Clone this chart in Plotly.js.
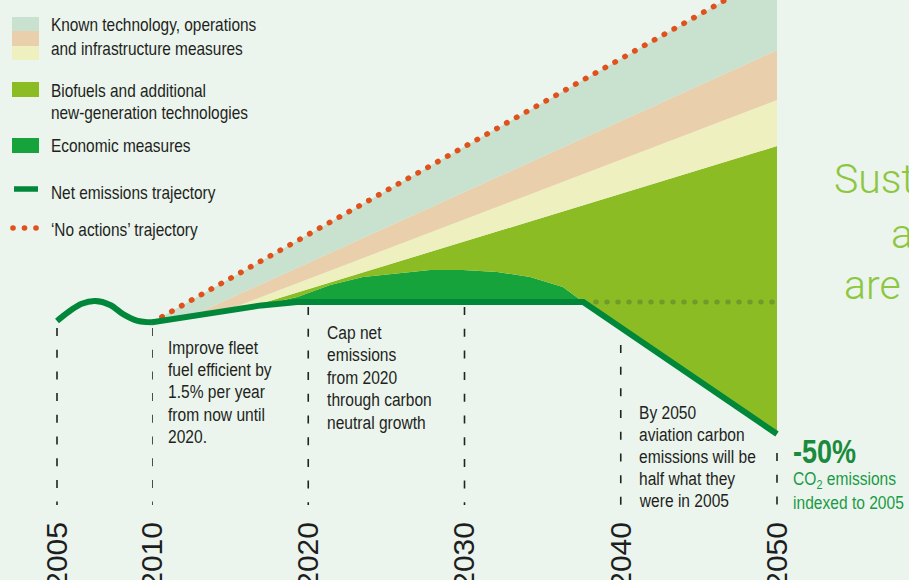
<!DOCTYPE html>
<html><head><meta charset="utf-8">
<script src="https://cdn.plot.ly/plotly-3.0.1.min.js"></script>
<style>html,body{margin:0;padding:0;background:#ebf5ee;}#chart{width:909px;height:580px;}</style>
</head><body><div id="chart"></div>
<script>
// ---------- DATA (CO2 emissions index, 2005 = 100) ----------
const earlyYears = [2005, 2005.6, 2006.3, 2007, 2007.8, 2008.5, 2009.2, 2010];
const earlyIndex = [100, 104, 107.6, 108.8, 107.1, 102.9, 100.2, 99.4];

const netYears = [2010, 2013, 2015, 2017, 2019.3, 2037.6, 2050];
const netIndex = [99.4, 102.7, 104.9, 106.9, 108.4, 108.4, 50];

const economicYears = [2010, 2013, 2015, 2016.2, 2017.1, 2019.3, 2021.4, 2023.5, 2025.7, 2027.8, 2029.9, 2032.1, 2034.2, 2036.3, 2037.6, 2050];
const economicIndex = [99.4, 102.7, 104.9, 106.1, 107.2, 110.6, 115.9, 119.5, 121.2, 122.6, 122.6, 121.7, 119.5, 115.0, 108.4, 50];

const biofuelYears = [2010, 2013, 2015, 2016.2, 2050];
const biofuelIndex = [99.4, 102.7, 104.9, 106.1, 177.4];

const infraYears = [2010, 2013, 2014.7, 2050];
const infraIndex = [99.4, 102.7, 104.6, 197.8];

const operationsYears = [2010, 2012.5, 2050];
const operationsIndex = [99.4, 102.2, 219.9];

const noActionYears = [2010, 2050];
const noActionIndex = [99.4, 254.9];

const capYears = [2038.4, 2050];
const capIndex = [108.4, 108.4];

const earlyTicks = [2005];
const mainTicks = [2010, 2020, 2030, 2040, 2050];
const earlyTickText = ['2005'];
const mainTickText = ['2010', '2020', '2030', '2040', '2050'];

const legendLabels = [
  ['Known technology, operations', 'and infrastructure measures'],
  ['Biofuels and additional', 'new-generation technologies'],
  ['Economic measures'],
  ['Net emissions trajectory'],
  ['\u2018No actions\u2019 trajectory']
];
const note2010 = ['Improve fleet', 'fuel efficient by', '1.5% per year', 'from now until', '2020.'];
const note2020 = ['Cap net', 'emissions', 'from 2020', 'through carbon', 'neutral growth'];
const note2040 = ['By 2050', 'aviation carbon', 'emissions will be', 'half what they', 'were in 2005'];

// ---------- STYLE / LAYOUT ----------
const W = 909, H = 580, B = 65, PH = H - B;
const SANS = "'Liberation Sans',Arial,Helvetica,sans-serif";
const SQUEEZE = 0.82;
const C = {bg:'#ebf5ee', mint:'#c8e2cf', peach:'#eacfad', cream:'#eef0bf', bio:'#8bbc24', eco:'#17a33b',
           net:'#00873a', orange:'#e0511b', cap:'#6f9b2b', text:'#231f20', green:'#1b9a45', light:'#8dc63f'};
const px = x => x / W, py = y => (PH - y) / PH;

function fillTrace(x, y, color){
  return {x, y, xaxis:'x2', yaxis:'y', mode:'lines', line:{width:0, color:color}, fill:'tonexty', fillcolor:color, hoverinfo:'skip'};
}
const traces = [
  {x: netYears, y: netIndex, xaxis:'x2', yaxis:'y', mode:'lines', line:{width:0, color:'rgba(0,0,0,0)'}, hoverinfo:'skip'},
  fillTrace(economicYears, economicIndex, C.eco),
  fillTrace(biofuelYears, biofuelIndex, C.bio),
  fillTrace(infraYears, infraIndex, C.cream),
  fillTrace(operationsYears, operationsIndex, C.peach),
  fillTrace(noActionYears, noActionIndex, C.mint),
  {x: noActionYears, y: noActionIndex, xaxis:'x2', yaxis:'y', mode:'lines', line:{width:5.5, color:C.orange, dash:'0.5px,10.8px'}, hoverinfo:'skip'},
  {x: capYears, y: capIndex, xaxis:'x2', yaxis:'y', mode:'lines', line:{width:5, color:C.cap, dash:'0.5px,10.5px'}, hoverinfo:'skip'},
  {x: earlyYears, y: earlyIndex, xaxis:'x', yaxis:'y', mode:'lines', line:{width:6, color:C.net, shape:'spline', smoothing:1}, hoverinfo:'skip'},
  {x: netYears, y: netIndex, xaxis:'x2', yaxis:'y', mode:'lines', line:{width:6, color:C.net}, hoverinfo:'skip'}
];

const guides = [
  {year:2005, axis:'x', from:96.9}, {year:2010, axis:'x2', from:96.9}, {year:2020, axis:'x2', from:106.2},
  {year:2030, axis:'x2', from:106.2}, {year:2040, axis:'x2', from:89.4}, {year:2050, axis:'x2', from:41.6}
];
const shapes = guides.map(g => ({type:'line', xref:g.axis, yref:'y', x0:g.year, x1:g.year, y0:g.from, y1:18.6,
  line:{color:'#222', width:1.6, dash:'8px,13.7px'}, layer:'above'}));

function prect(x0, y0, x1, y1, color){
  return {type:'rect', xref:'paper', yref:'paper', x0:px(x0), x1:px(x1), y0:py(y1), y1:py(y0), fillcolor:color, line:{width:0}};
}
shapes.push(prect(12,17,39,31,C.mint), prect(12,31,39,46,C.peach), prect(12,46,39,60,C.cream),
            prect(12,82,39,97,C.bio), prect(12,138,39,153,C.eco));
shapes.push({type:'line', xref:'paper', yref:'paper', x0:px(14), x1:px(38), y0:py(189), y1:py(189), line:{color:C.net, width:5.5}});
[13, 24.5, 36].forEach(cx => shapes.push({type:'circle', xref:'paper', yref:'paper', x0:px(cx-2.8), x1:px(cx+2.8), y0:py(228+2.8), y1:py(228-2.8), fillcolor:C.orange, line:{width:0}}));

const annotations = [], squeeze = [];
function txt(s, x, y, o){
  o = o || {};
  squeeze.push(o.squeeze !== false);
  annotations.push({text:s, xref:'paper', yref:'paper', x:px(x), y:py(y), xanchor:'left', yanchor:'middle', showarrow:false, borderpad:0,
          font:{family:o.family||SANS, size:o.size||19, color:o.color||C.text, weight:o.weight||400}});
}
const legendY = [[25,48],[90,113],[146],[192],[229]];
legendLabels.forEach((ls,i) => ls.forEach((s,j) => txt(s, 50, legendY[i][j], {size:18.8})));
note2010.forEach((s,i) => txt(s, 167, 347 + i*22.4));
note2020.forEach((s,i) => txt(s, 326, 332 + i*22.5));
note2040.forEach((s,i) => txt(s, 638, 412 + i*22));
txt('-50%', 792, 451, {size:33, weight:700, color:'#1b8a3c'});
txt('CO<sub>2</sub> emissions', 792, 480, {color:C.green, size:19});
txt('indexed to 2005', 792, 502, {color:C.green, size:19});
const LIGHT = {family:'Roboto, Lato, sans-serif', size:41, weight:300, color:C.light, squeeze:false};
txt('Sust', 833, 179, LIGHT);
txt('a', 890, 234, LIGHT);
txt('are', 843, 285, LIGHT);

const axisBase = {showgrid:false, zeroline:false, showline:false, ticks:'', tickangle:-90, automargin:false, fixedrange:true,
  tickfont:{family:SANS, size:30, color:'#1e1e1e'}};
const layout = {
  width:W, height:H, margin:{l:0, r:0, t:0, b:B, pad:0}, paper_bgcolor:C.bg, plot_bgcolor:C.bg, showlegend:false,
  xaxis: Object.assign({}, axisBase, {domain:[0, 152/W], range:[2002, 2010], tickmode:'array', tickvals:earlyTicks, ticktext:earlyTickText, anchor:'y'}),
  xaxis2: Object.assign({}, axisBase, {domain:[152/W, 1], range:[2010, 2058.448], tickmode:'array', tickvals:mainTicks, ticktext:mainTickText, anchor:'y'}),
  yaxis: {range:[14.16, 242.04], visible:false, fixedrange:true},
  shapes, annotations, hovermode:false
};
Plotly.newPlot('chart', traces, layout, {displayModeBar:false, staticPlot:true}).then(() => {
  document.querySelectorAll('path.js-line').forEach(p => {
    if ((p.style.strokeDasharray || '').indexOf('0.5px') === 0) p.style.strokeLinecap = 'round';
  });
  document.querySelectorAll('g.annotation').forEach(g => {
    const i = +g.getAttribute('data-index');
    if (!squeeze[i]) return;
    const t = g.querySelector('text.annotation-text');
    if (!t) return;
    t.style.transformBox = 'fill-box';
    t.style.transformOrigin = '0 50%';
    t.style.transform = 'scaleX(' + SQUEEZE + ')';
  });
});
</script></body></html>
